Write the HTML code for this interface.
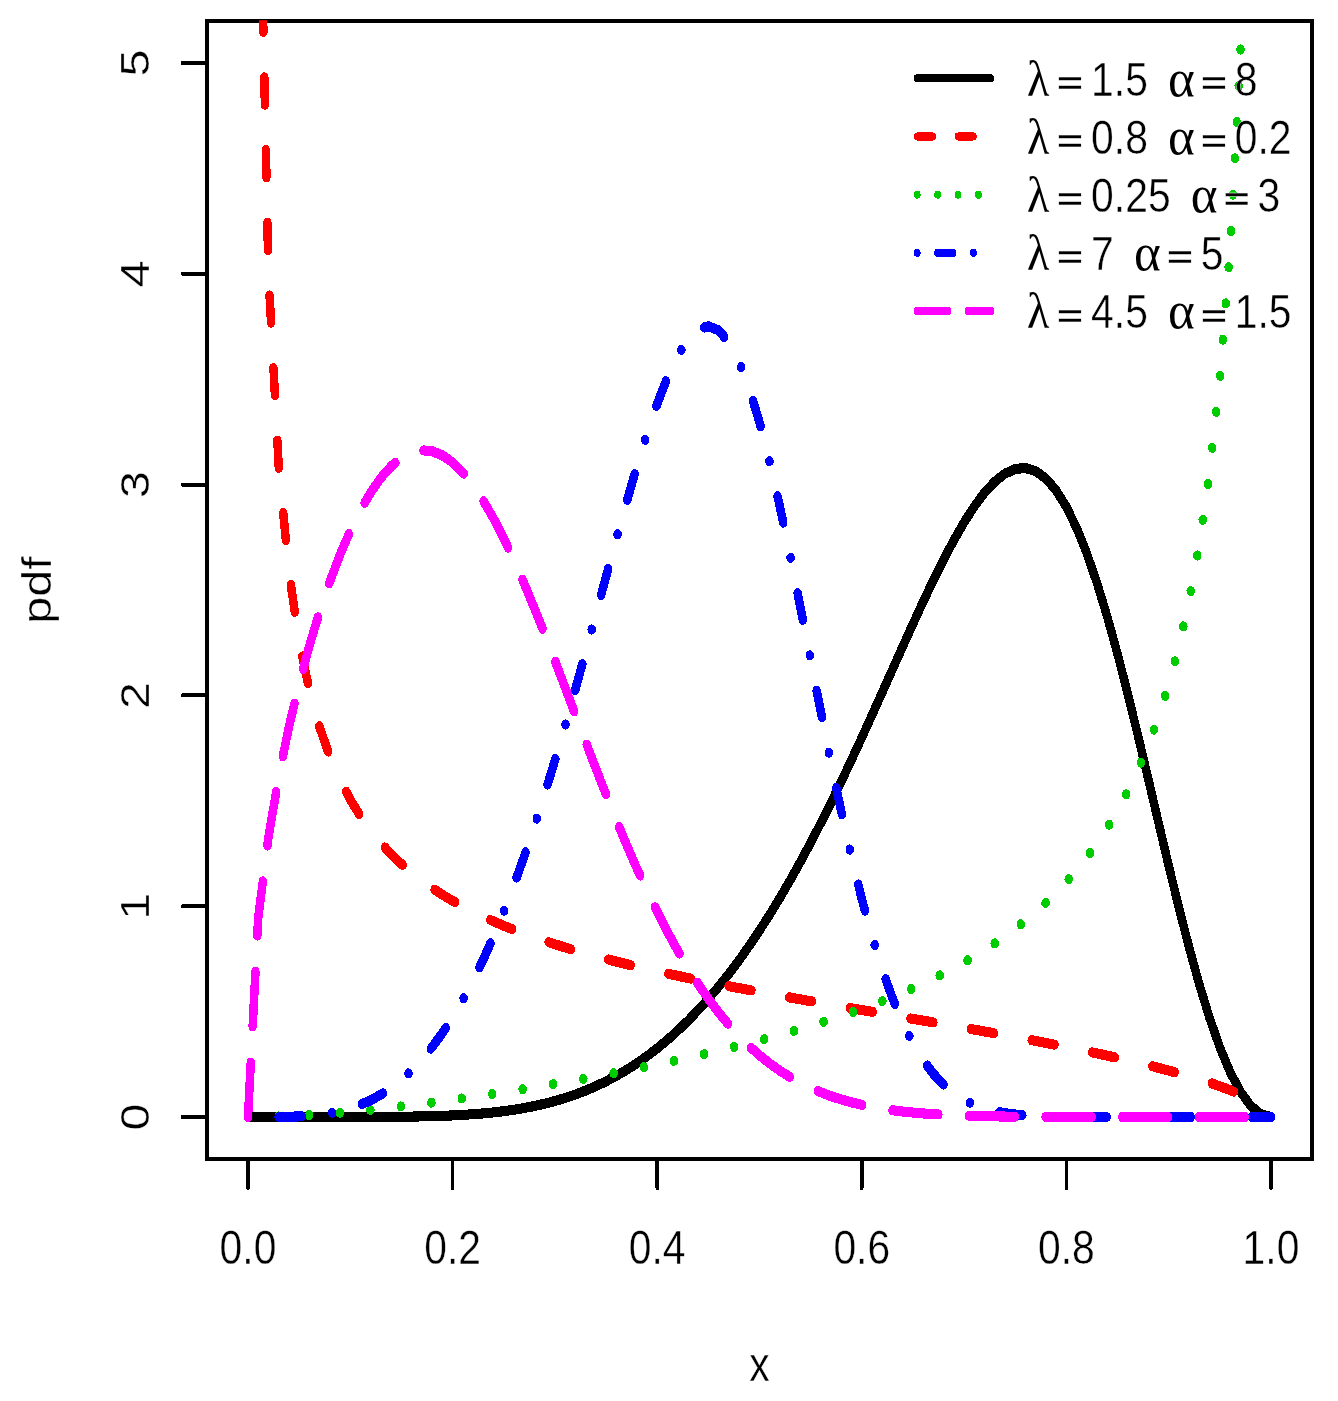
<!DOCTYPE html>
<html><head><meta charset="utf-8"><title>pdf</title>
<style>
html,body{margin:0;padding:0;background:#fff}
svg{display:block}
text{font-family:"Liberation Sans",sans-serif;font-size:12px;fill:#000;stroke:#fff;stroke-width:0.1px}
.g{font-family:"Liberation Serif","DejaVu Serif",serif;stroke:none}
.e{font-family:"DejaVu Sans","Liberation Sans",sans-serif;stroke-width:0.1px}
</style></head><body>
<svg width="1338" height="1401" viewBox="0 0 1338 1401">
<rect x="0" y="0" width="1338" height="1401" fill="#ffffff"/>
<defs><clipPath id="clip"><rect x="60.696" y="5.038" width="324.716" height="282.002"/></clipPath></defs>
<g transform="scale(3.405,4.04)" fill="none" stroke-linecap="round" stroke-linejoin="round" shape-rendering="crispEdges">
<path d="M72.834,276.485 L75.838,276.485 L78.843,276.485 L81.847,276.485 L84.852,276.485 L87.856,276.485 L90.860,276.485 L93.865,276.485 L96.869,276.484 L99.874,276.483 L102.878,276.480 L105.883,276.476 L108.887,276.469 L111.891,276.458 L114.896,276.441 L117.900,276.418 L120.905,276.384 L123.909,276.339 L126.913,276.277 L129.918,276.197 L132.922,276.093 L135.927,275.960 L138.931,275.795 L141.935,275.591 L144.940,275.342 L147.944,275.042 L150.949,274.685 L153.953,274.263 L156.957,273.768 L159.962,273.195 L162.966,272.534 L165.971,271.778 L168.975,270.921 L171.979,269.953 L174.984,268.868 L177.988,267.658 L180.993,266.316 L183.997,264.835 L187.001,263.208 L190.006,261.429 L193.010,259.492 L196.015,257.390 L199.019,255.119 L202.023,252.673 L205.028,250.048 L208.032,247.239 L211.037,244.243 L214.041,241.057 L217.046,237.678 L220.050,234.105 L223.054,230.336 L226.059,226.371 L229.063,222.211 L232.068,217.859 L235.072,213.318 L238.076,208.593 L241.081,203.692 L244.085,198.626 L247.090,193.406 L250.094,188.048 L253.098,182.573 L256.103,177.003 L259.107,171.368 L262.112,165.701 L265.116,160.042 L268.120,154.436 L271.125,148.935 L274.129,143.600 L277.134,138.496 L280.138,133.697 L283.142,129.281 L286.147,125.336 L289.151,121.950 L292.156,119.216 L295.160,117.229 L298.164,116.078 L301.169,115.850 L304.173,116.622 L307.178,118.457 L310.182,121.402 L313.186,125.482 L316.191,130.697 L319.195,137.018 L322.200,144.387 L325.204,152.714 L328.209,161.879 L331.213,171.732 L334.217,182.100 L337.222,192.790 L340.226,203.595 L343.231,214.300 L346.235,224.693 L349.239,234.567 L352.244,243.730 L355.248,252.010 L358.253,259.255 L361.257,265.341 L364.261,270.167 L367.266,273.662 L370.270,275.777 L373.275,276.485" stroke="#000000" stroke-width="2.5" clip-path="url(#clip)"/>
<rect x="60.816" y="5.158" width="324.476" height="281.762" stroke="#000" stroke-width="1.0" stroke-linejoin="miter"/>
<path d="M72.834,286.921 V294.121" stroke="#000" stroke-width="1.0"/>
<path d="M132.922,286.921 V294.121" stroke="#000" stroke-width="1.0"/>
<path d="M193.010,286.921 V294.121" stroke="#000" stroke-width="1.0"/>
<path d="M253.098,286.921 V294.121" stroke="#000" stroke-width="1.0"/>
<path d="M313.186,286.921 V294.121" stroke="#000" stroke-width="1.0"/>
<path d="M373.275,286.921 V294.121" stroke="#000" stroke-width="1.0"/>
<path d="M60.816,276.485 H53.616" stroke="#000" stroke-width="1.0"/>
<path d="M60.816,224.307 H53.616" stroke="#000" stroke-width="1.0"/>
<path d="M60.816,172.129 H53.616" stroke="#000" stroke-width="1.0"/>
<path d="M60.816,119.950 H53.616" stroke="#000" stroke-width="1.0"/>
<path d="M60.816,67.772 H53.616" stroke="#000" stroke-width="1.0"/>
<path d="M60.816,15.594 H53.616" stroke="#000" stroke-width="1.0"/>
<path d="M75.838,-52.826 L78.843,67.793 L81.847,115.221 L84.852,141.571 L87.856,158.683 L90.860,170.846 L93.865,180.017 L96.869,187.229 L99.874,193.079 L102.878,197.941 L105.883,202.060 L108.887,205.607 L111.891,208.701 L114.896,211.431 L117.900,213.862 L120.905,216.046 L123.909,218.023 L126.913,219.823 L129.918,221.473 L132.922,222.993 L135.927,224.400 L138.931,225.707 L141.935,226.928 L144.940,228.072 L147.944,229.147 L150.949,230.162 L153.953,231.121 L156.957,232.031 L159.962,232.897 L162.966,233.723 L165.971,234.513 L168.975,235.269 L171.979,235.995 L174.984,236.693 L177.988,237.367 L180.993,238.017 L183.997,238.647 L187.001,239.257 L190.006,239.849 L193.010,240.425 L196.015,240.986 L199.019,241.533 L202.023,242.067 L205.028,242.590 L208.032,243.103 L211.037,243.605 L214.041,244.099 L217.046,244.585 L220.050,245.063 L223.054,245.535 L226.059,246.001 L229.063,246.461 L232.068,246.916 L235.072,247.368 L238.076,247.815 L241.081,248.259 L244.085,248.701 L247.090,249.141 L250.094,249.578 L253.098,250.015 L256.103,250.450 L259.107,250.885 L262.112,251.321 L265.116,251.756 L268.120,252.193 L271.125,252.631 L274.129,253.071 L277.134,253.513 L280.138,253.957 L283.142,254.405 L286.147,254.856 L289.151,255.311 L292.156,255.771 L295.160,256.236 L298.164,256.706 L301.169,257.183 L304.173,257.667 L307.178,258.158 L310.182,258.657 L313.186,259.165 L316.191,259.683 L319.195,260.211 L322.200,260.752 L325.204,261.305 L328.209,261.873 L331.213,262.457 L334.217,263.058 L337.222,263.678 L340.226,264.321 L343.231,264.988 L346.235,265.684 L349.239,266.413 L352.244,267.181 L355.248,267.997 L358.253,268.871 L361.257,269.820 L364.261,270.873 L367.266,272.082 L370.270,273.579" stroke="#ff0000" stroke-width="2.5" stroke-dasharray="6.75,11.25" clip-path="url(#clip)"/>
<path d="M72.834,276.485 L75.838,276.470 L78.843,276.425 L81.847,276.353 L84.852,276.254 L87.856,276.131 L90.860,275.986 L93.865,275.819 L96.869,275.633 L99.874,275.427 L102.878,275.205 L105.883,274.966 L108.887,274.712 L111.891,274.444 L114.896,274.162 L117.900,273.868 L120.905,273.561 L123.909,273.244 L126.913,272.916 L129.918,272.577 L132.922,272.229 L135.927,271.872 L138.931,271.505 L141.935,271.130 L144.940,270.747 L147.944,270.355 L150.949,269.954 L153.953,269.546 L156.957,269.130 L159.962,268.705 L162.966,268.273 L165.971,267.832 L168.975,267.384 L171.979,266.926 L174.984,266.460 L177.988,265.986 L180.993,265.502 L183.997,265.009 L187.001,264.506 L190.006,263.993 L193.010,263.470 L196.015,262.935 L199.019,262.389 L202.023,261.832 L205.028,261.261 L208.032,260.678 L211.037,260.080 L214.041,259.468 L217.046,258.841 L220.050,258.197 L223.054,257.536 L226.059,256.857 L229.063,256.158 L232.068,255.439 L235.072,254.698 L238.076,253.934 L241.081,253.145 L244.085,252.329 L247.090,251.486 L250.094,250.612 L253.098,249.706 L256.103,248.765 L259.107,247.788 L262.112,246.770 L265.116,245.709 L268.120,244.602 L271.125,243.444 L274.129,242.232 L277.134,240.961 L280.138,239.625 L283.142,238.219 L286.147,236.736 L289.151,235.168 L292.156,233.508 L295.160,231.745 L298.164,229.869 L301.169,227.866 L304.173,225.722 L307.178,223.420 L310.182,220.940 L313.186,218.257 L316.191,215.345 L319.195,212.168 L322.200,208.687 L325.204,204.850 L328.209,200.596 L331.213,195.848 L334.217,190.505 L337.222,184.441 L340.226,177.484 L343.231,169.406 L346.235,159.888 L349.239,148.473 L352.244,134.476 L355.248,116.817 L358.253,93.679 L361.257,61.708 L364.261,13.825 L367.266,-68.494 L370.270,-259.714" stroke="#00cd00" stroke-width="2.5" stroke-dasharray="0.001,9" clip-path="url(#clip)"/>
<path d="M72.834,276.485 L75.838,276.485 L78.843,276.481 L81.847,276.464 L84.852,276.419 L87.856,276.328 L90.860,276.170 L93.865,275.919 L96.869,275.550 L99.874,275.034 L102.878,274.343 L105.883,273.448 L108.887,272.320 L111.891,270.931 L114.896,269.255 L117.900,267.265 L120.905,264.937 L123.909,262.247 L126.913,259.175 L129.918,255.701 L132.922,251.808 L135.927,247.482 L138.931,242.711 L141.935,237.485 L144.940,231.799 L147.944,225.650 L150.949,219.041 L153.953,211.979 L156.957,204.478 L159.962,196.558 L162.966,188.250 L165.971,179.593 L168.975,170.639 L171.979,161.455 L174.984,152.123 L177.988,142.742 L180.993,133.431 L183.997,124.329 L187.001,115.592 L190.006,107.399 L193.010,99.941 L196.015,93.421 L199.019,88.048 L202.023,84.023 L205.028,81.536 L208.032,80.746 L211.037,81.775 L214.041,84.693 L217.046,89.507 L220.050,96.159 L223.054,104.517 L226.059,114.386 L229.063,125.510 L232.068,137.591 L235.072,150.300 L238.076,163.302 L241.081,176.271 L244.085,188.910 L247.090,200.962 L250.094,212.221 L253.098,222.533 L256.103,231.805 L259.107,239.991 L262.112,247.092 L265.116,253.147 L268.120,258.223 L271.125,262.408 L274.129,265.800 L277.134,268.503 L280.138,270.620 L283.142,272.250 L286.147,273.482 L289.151,274.395 L292.156,275.060 L295.160,275.534 L298.164,275.864 L301.169,276.090 L304.173,276.240 L307.178,276.337 L310.182,276.398 L313.186,276.436 L316.191,276.458 L319.195,276.471 L322.200,276.478 L325.204,276.482 L328.209,276.484 L331.213,276.484 L334.217,276.485 L337.222,276.485 L340.226,276.485 L343.231,276.485 L346.235,276.485 L349.239,276.485 L352.244,276.485 L355.248,276.485 L358.253,276.485 L361.257,276.485 L364.261,276.485 L367.266,276.485 L370.270,276.485 L373.275,276.485" stroke="#0000ff" stroke-width="2.5" stroke-dasharray="0.001,9,6.75,9" clip-path="url(#clip)"/>
<path d="M72.834,276.485 L75.838,227.161 L78.843,207.276 L81.847,192.310 L84.852,179.929 L87.856,169.248 L90.860,159.834 L93.865,151.450 L96.869,143.962 L99.874,137.292 L102.878,131.398 L105.883,126.262 L108.887,121.879 L111.891,118.252 L114.896,115.389 L117.900,113.298 L120.905,111.985 L123.909,111.454 L126.913,111.699 L129.918,112.711 L132.922,114.472 L135.927,116.954 L138.931,120.122 L141.935,123.932 L144.940,128.332 L147.944,133.264 L150.949,138.662 L153.953,144.459 L156.957,150.583 L159.962,156.960 L162.966,163.519 L165.971,170.187 L168.975,176.898 L171.979,183.588 L174.984,190.198 L177.988,196.675 L180.993,202.973 L183.997,209.053 L187.001,214.883 L190.006,220.435 L193.010,225.691 L196.015,230.636 L199.019,235.263 L202.023,239.568 L205.028,243.553 L208.032,247.223 L211.037,250.586 L214.041,253.652 L217.046,256.436 L220.050,258.950 L223.054,261.211 L226.059,263.235 L229.063,265.039 L232.068,266.640 L235.072,268.054 L238.076,269.297 L241.081,270.385 L244.085,271.333 L247.090,272.155 L250.094,272.865 L253.098,273.474 L256.103,273.994 L259.107,274.436 L262.112,274.810 L265.116,275.124 L268.120,275.387 L271.125,275.605 L274.129,275.785 L277.134,275.932 L280.138,276.052 L283.142,276.149 L286.147,276.227 L289.151,276.288 L292.156,276.337 L295.160,276.375 L298.164,276.404 L301.169,276.426 L304.173,276.443 L307.178,276.455 L310.182,276.464 L313.186,276.471 L316.191,276.476 L319.195,276.479 L322.200,276.481 L325.204,276.483 L328.209,276.484 L331.213,276.484 L334.217,276.485 L337.222,276.485 L340.226,276.485 L343.231,276.485 L346.235,276.485 L349.239,276.485 L352.244,276.485 L355.248,276.485 L358.253,276.485 L361.257,276.485 L364.261,276.485 L367.266,276.485 L370.270,276.485 L373.275,276.485" stroke="#ff00ff" stroke-width="2.5" stroke-dasharray="13.5,9" clip-path="url(#clip)"/>
<path d="M269.369,19.381 H290.969" stroke="#000000" stroke-width="2.0"/>
<path d="M269.369,33.781 H290.969" stroke="#ff0000" stroke-width="2.0" stroke-dasharray="4.5,7.5"/>
<path d="M269.369,48.181 H290.969" stroke="#00cd00" stroke-width="2.0" stroke-dasharray="0.001,6"/>
<path d="M269.369,62.581 H290.969" stroke="#0000ff" stroke-width="2.0" stroke-dasharray="0.001,6,4.5,6"/>
<path d="M269.369,76.981 H290.969" stroke="#ff00ff" stroke-width="2.0" stroke-dasharray="9,6"/>
</g>
<g transform="scale(3.405,4.04)">
<text x="72.834" y="312.847" text-anchor="middle">0.0</text>
<text x="132.922" y="312.847" text-anchor="middle">0.2</text>
<text x="193.010" y="312.847" text-anchor="middle">0.4</text>
<text x="253.098" y="312.847" text-anchor="middle">0.6</text>
<text x="313.186" y="312.847" text-anchor="middle">0.8</text>
<text x="373.275" y="312.847" text-anchor="middle">1.0</text>
<text transform="translate(43.642,276.485) rotate(-90)" text-anchor="middle">0</text>
<text transform="translate(43.642,224.307) rotate(-90)" text-anchor="middle">1</text>
<text transform="translate(43.642,172.129) rotate(-90)" text-anchor="middle">2</text>
<text transform="translate(43.642,119.950) rotate(-90)" text-anchor="middle">3</text>
<text transform="translate(43.642,67.772) rotate(-90)" text-anchor="middle">4</text>
<text transform="translate(43.642,15.594) rotate(-90)" text-anchor="middle">5</text>
<text x="223.054" y="341.832" text-anchor="middle">x</text>
<text transform="translate(14.890,146.040) rotate(-90)" text-anchor="middle">pdf</text>
<text class="g" transform="translate(301.645,23.663) scale(1.13,1.05)">λ</text>
<text class="e" transform="translate(309.841,23.743) scale(0.875,0.88)">=</text>
<text x="320.441" y="23.663">1.5</text>
<text class="g" transform="translate(343.012,23.663) scale(1.25,1.08)">α</text>
<text class="e" transform="translate(352.131,23.743) scale(0.875,0.88)">=</text>
<text x="362.627" y="23.663">8</text>
<text class="g" transform="translate(301.645,38.063) scale(1.13,1.05)">λ</text>
<text class="e" transform="translate(309.841,38.143) scale(0.875,0.88)">=</text>
<text x="320.441" y="38.063">0.8</text>
<text class="g" transform="translate(343.012,38.063) scale(1.25,1.08)">α</text>
<text class="e" transform="translate(352.131,38.143) scale(0.875,0.88)">=</text>
<text x="362.627" y="38.063">0.2</text>
<text class="g" transform="translate(301.645,52.463) scale(1.13,1.05)">λ</text>
<text class="e" transform="translate(309.841,52.543) scale(0.875,0.88)">=</text>
<text x="320.441" y="52.463">0.25</text>
<text class="g" transform="translate(349.684,52.463) scale(1.25,1.08)">α</text>
<text class="e" transform="translate(358.803,52.543) scale(0.875,0.88)">=</text>
<text x="369.299" y="52.463">3</text>
<text class="g" transform="translate(301.645,66.863) scale(1.13,1.05)">λ</text>
<text class="e" transform="translate(309.841,66.943) scale(0.875,0.88)">=</text>
<text x="320.441" y="66.863">7</text>
<text class="g" transform="translate(333.004,66.863) scale(1.25,1.08)">α</text>
<text class="e" transform="translate(342.123,66.943) scale(0.875,0.88)">=</text>
<text x="352.619" y="66.863">5</text>
<text class="g" transform="translate(301.645,81.263) scale(1.13,1.05)">λ</text>
<text class="e" transform="translate(309.841,81.343) scale(0.875,0.88)">=</text>
<text x="320.441" y="81.263">4.5</text>
<text class="g" transform="translate(343.012,81.263) scale(1.25,1.08)">α</text>
<text class="e" transform="translate(352.131,81.343) scale(0.875,0.88)">=</text>
<text x="362.627" y="81.263">1.5</text>
</g>
</svg></body></html>
